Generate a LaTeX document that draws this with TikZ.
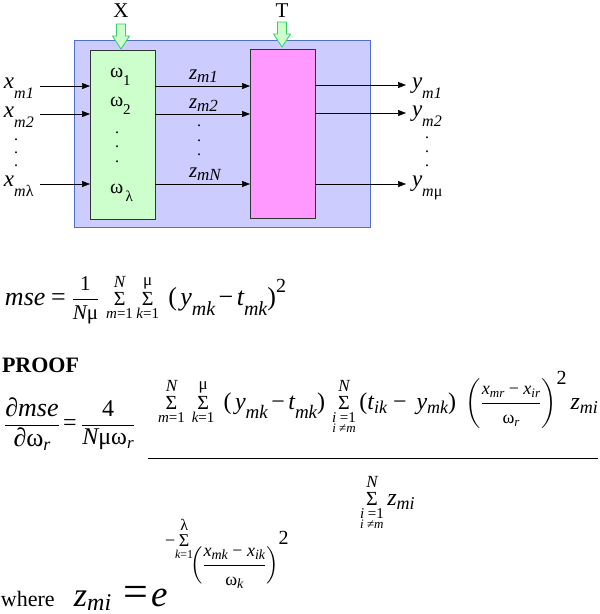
\documentclass[tikz,border=0pt]{standalone}
\usepackage{amsmath}
\usepackage{fontspec}
\setmainfont{Liberation Serif}
\usetikzlibrary{arrows.meta}
\def\fsz#1{\fontsize{#1}{#1}\selectfont}
\def\vtx#1#2{\text{\upshape\fsz{#1}#2}}
\def\vti#1#2{\text{\itshape\fsz{#1}#2}}
\def\vsb#1#2#3#4#5{\text{\itshape\fsz{#1}#2\raisebox{#5}{\itshape\fsz{#3}#4}}}
\def\sumv#1#2{\mathop{\text{\upshape\fsz{20}Σ}}\limits_{\text{\fsz{15}#1}}^{\text{\fsz{17}#2}}}
\def\sumx#1#2{\mathop{\text{\upshape\fsz{18}Σ}}\limits_{\text{\fsz{12}#1}}^{\text{\fsz{16}#2}}}
\def\sumw#1#2#3{\mathop{\text{\upshape\fsz{20}Σ}}\limits_{\substack{\text{\fsz{15}#1}\\[-1pt]\text{\fsz{13}#2}}}^{\text{\fsz{17}#3}}}
\definecolor{outerfill}{HTML}{CCCCFF}
\definecolor{outeredge}{HTML}{4F6FD0}
\definecolor{greenfill}{HTML}{CCFFCC}
\definecolor{magfill}{HTML}{FF99FF}
\definecolor{arrowedge}{HTML}{33CC66}
\begin{document}
\begin{tikzpicture}[x=1pt,y=-1pt,
  every node/.style={inner sep=0pt,outer sep=0pt},
  conn/.style={-{Triangle[length=8pt,width=6pt]},line width=0.6pt},
  blockarrow/.style={fill=greenfill,draw=arrowedge,line width=0.8pt},
  box/.style={draw=black!80,line width=0.8pt,anchor=north west},
  lab/.style={font=\fsz{21}},
  dotcol/.style={font=\fsz{16}},
  eqn/.style={font=\fsz{22}}]
\useasboundingbox (0,0) rectangle (600,614);
% boxes
\node[box,draw=outeredge,fill=outerfill,minimum width=296pt,minimum height=187pt] (outer) at (74,40) {};
\node[box,fill=greenfill,minimum width=65pt,minimum height=169pt] (green) at (90,50) {};
\node[box,fill=magfill,minimum width=65pt,minimum height=169pt] (mag) at (250,49) {};
% block arrows
\draw[blockarrow,shift={(121,24)}] (-4.5,0) -- (4.5,0) -- (4.5,12) -- (8.5,12) -- (0,25) -- (-8.5,12) -- (-4.5,12) -- cycle;
\draw[blockarrow,shift={(282,22)}] (-4.5,0) -- (4.5,0) -- (4.5,12) -- (8.5,12) -- (0,25) -- (-8.5,12) -- (-4.5,12) -- cycle;
\node[lab] (Xl) at (121,11) {X};
\node[lab] (Tl) at (282,11) {T};
% inputs
\coordinate (xin1) at (40,86);
\coordinate (xin2) at (40,114);
\coordinate (xin3) at (40,184);
\draw[conn] (xin1) -- (xin1 -| green.west);
\draw[conn] (xin2) -- (xin2 -| green.west);
\draw[conn] (xin3) -- (xin3 -| green.west);
\draw[conn] (green.east |- xin1) -- (mag.west |- xin1);
\draw[conn] (green.east |- xin2) -- (mag.west |- xin2);
\draw[conn] (green.east |- xin3) -- (mag.west |- xin3);
\coordinate (yo1) at (406,85);
\coordinate (yo2) at (406,113);
\coordinate (yo3) at (406,184);
\draw[conn] (mag.east |- yo1) -- (yo1);
\draw[conn] (mag.east |- yo2) -- (yo2);
\draw[conn] (mag.east |- yo3) -- (yo3);
% input labels
\node[anchor=base west] (x1) at (4,88) {\fsz{23}\itshape x\raisebox{-10pt}{\fsz{16}m1}};
\node[anchor=base west] (x2) at (4,117) {\fsz{23}\itshape x\raisebox{-10pt}{\fsz{16}m2}};
\node[anchor=base west] (x3) at (4,186) {\fsz{23}\itshape x\raisebox{-10pt}{\fsz{16}m\upshape λ}};
\node[dotcol] (xd1) at (16,140) {.};
\node[dotcol] (xd2) at (16,153) {.};
\node[dotcol] (xd3) at (16,166) {.};
% omega labels
\node[anchor=base west] (w1) at (110,77) {\fsz{20}ω\raisebox{-8pt}{\fsz{15}1}};
\node[anchor=base west] (w2) at (110,106) {\fsz{20}ω\raisebox{-8pt}{\fsz{15}2}};
\node[dotcol] (wd1) at (117,133) {.};
\node[dotcol] (wd2) at (117,147) {.};
\node[dotcol] (wd3) at (117,162) {.};
\node[anchor=base west] (w3) at (110,193) {\fsz{20}ω\raisebox{-8pt}{\fsz{15}\,λ}};
% z labels
\node[anchor=base west] (z1) at (189,79) {\fsz{21}\itshape z\raisebox{-3pt}{\fsz{17}m1}};
\node[anchor=base west] (z2) at (189,108) {\fsz{21}\itshape z\raisebox{-3pt}{\fsz{17}m2}};
\node[dotcol] (zd1) at (199,126) {.};
\node[dotcol] (zd2) at (199,141) {.};
\node[dotcol] (zd3) at (199,155) {.};
\node[anchor=base west] (z3) at (189,177) {\fsz{21}\itshape z\raisebox{-3pt}{\fsz{17}mN}};
% output labels
\node[anchor=base west] (y1) at (412,88) {\fsz{23}\itshape y\raisebox{-10pt}{\fsz{16}m1}};
\node[anchor=base west] (y2) at (412,116) {\fsz{23}\itshape y\raisebox{-10pt}{\fsz{16}m2}};
\node[anchor=base west] (y3) at (412,186) {\fsz{23}\itshape y\raisebox{-10pt}{\fsz{16}m\upshape μ}};
\node[dotcol] (yd1) at (427,138) {.};
\node[dotcol] (yd2) at (427,152) {.};
\node[dotcol] (yd3) at (427,166) {.};
% mse formula
\node[eqn,anchor=base west] (mse) at (5,305) {$\vti{26}{mse}\;\vtx{26}{=}\;\dfrac{\vtx{21}{1}}{\vti{21}{N}\vtx{21}{μ}}\,\sumv{\itshape m\upshape =1}{\itshape N}\sumv{\itshape k\upshape =1}{μ}\;\vtx{26}{(}\,\vsb{26}{y}{20}{mk}{-10pt}\,\vtx{26}{−}\,\vsb{26}{t}{20}{mk}{-10pt}\vtx{26}{)\raisebox{13pt}{\fsz{20}2}}$};
% PROOF
\node[anchor=base west,font=\fsz{22}\bfseries] (proof) at (2,372) {PROOF};
% derivative
\node[eqn,anchor=base] (dmse) at (32,430.5) {$\dfrac{\vtx{26}{∂}\vti{26}{mse}}{\vtx{26}{∂}\vsb{26}{\upshape ω}{18}{r}{-4pt}}$};
\node[eqn,anchor=base] (eq2) at (70,430.5) {\fsz{24}=};
\node[eqn,anchor=base] (four) at (108,430.5) {$\dfrac{\vtx{24}{4}}{\vti{24}{N}\vtx{24}{μ}\vsb{24}{\upshape ω}{17}{r}{-4pt}}$};
\node[eqn,anchor=base] (num) at (378,409) {$\sumv{\itshape m\upshape =1}{\itshape N}\,\sumv{\itshape k\upshape =1}{μ}\;\vtx{24}{(}\,\vsb{24}{y}{19}{mk}{-9pt}\,\vtx{24}{−}\,\vsb{24}{t}{19}{mk}{-9pt}\vtx{24}{)}\,\sumw{\itshape i \upshape =1}{\itshape i \upshape ≠\itshape m}{\itshape N}\vtx{24}{(}\vsb{24}{t}{18}{ik}{-4pt}\vtx{24}{ − \,}\vsb{24}{y}{18}{mk}{-4pt}\vtx{24}{)}\;\left(\dfrac{\vsb{18}{x}{13}{mr}{-3pt}\vtx{18}{ − }\vsb{18}{x}{13}{ir}{-3pt}}{\vsb{18}{\upshape ω}{13}{r}{-3pt}}\right)^{\vtx{20}{2}}\vsb{24}{z}{18}{mi}{-4pt}$};
\coordinate (barL) at (148,458);
\coordinate (barR) at (598,458);
\draw[line width=0.8pt] (barL) -- (barR);
\node[eqn,anchor=base west] (den) at (360,505) {$\sumw{\itshape i \upshape =1}{\itshape i \upshape ≠\itshape m}{\itshape N}\vsb{24}{z}{18}{mi}{-4pt}$};
% where
\node[anchor=base west,font=\fsz{22}] (where) at (1,606) {where};
\node[anchor=base west] (zmi) at (74,606) {\fsz{34}\itshape z\raisebox{-4pt}{\fsz{24}mi}};
\node[anchor=base west,font=\fsz{44}] (eq3) at (123,606) {=};
\node[anchor=base west,font=\fsz{37}\itshape] (ee) at (151,606) {e};
\node[eqn,anchor=base west] (expsum) at (165,546) {$\vtx{18}{−}\!\sumx{\itshape k\upshape =1}{λ}$};
\node[eqn,anchor=base west] (expfrac) at (190,571) {$\Bigl(\dfrac{\vsb{18}{x}{14}{mk}{-3pt}\vtx{18}{ − }\vsb{18}{x}{14}{ik}{-3pt}}{\vsb{18}{\upshape ω}{14}{k}{-3pt}}\Bigr)^{\raisebox{8pt}{\vtx{20}{2}}}$};
\end{tikzpicture}
\end{document}
